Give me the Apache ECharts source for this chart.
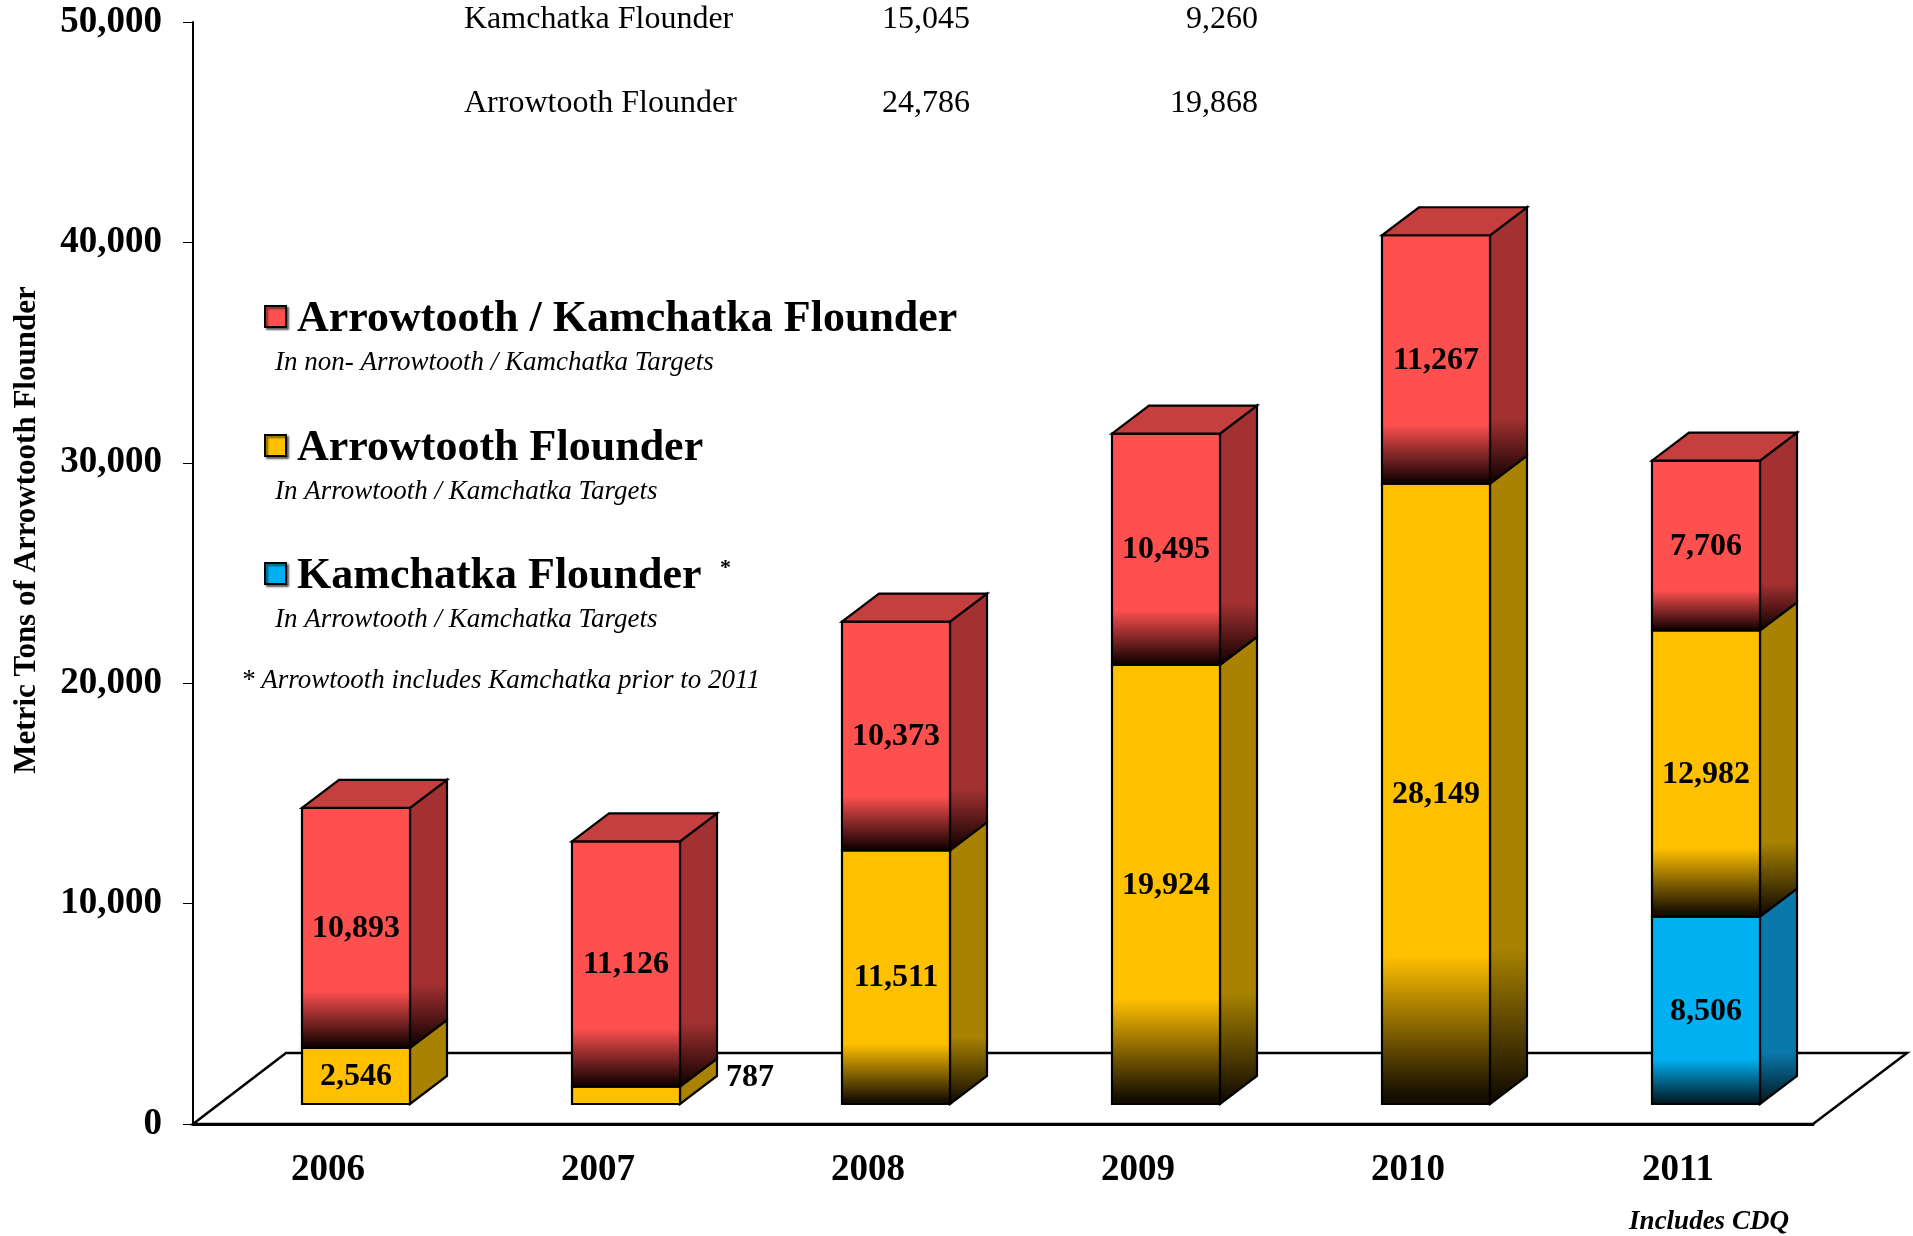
<!DOCTYPE html>
<html>
<head>
<meta charset="utf-8">
<script src="https://cdn.jsdelivr.net/npm/echarts@6/dist/echarts.min.js"></script>
<style>
html,body{margin:0;padding:0;background:#fff;}
#flounderChart{width:1913px;height:1236px;}
</style>
</head>
<body>
<div id="flounderChart"></div>
<script>
// values, bottom segment first
var years = ['2006', '2007', '2008', '2009', '2010', '2011'];
var kamchatkaTarget = [0, 0, 0, 0, 0, 8506];
var arrowtoothTarget = [2546, 787, 11511, 19924, 28149, 12982];
var otherTargets = [10893, 11126, 10373, 10495, 11267, 7706];

var tableNames = ['Kamchatka Flounder', 'Arrowtooth Flounder'];
var tableColA = ['15,045', '24,786'];
var tableColB = ['9,260', '19,868'];

var SERIF = '"Liberation Serif", "Times New Roman", serif';
// 3d box geometry (px)
var FACE_W = 108, DX = 37, DY = -28, SHIFT_X = 28, SHIFT_Y = -20;
var FLOOR_DX = 93, FLOOR_DY = -71;

var stacks = [
    {name: 'Kamchatka Flounder', values: kamchatkaTarget, front: '#00b0f0', side: '#0a78aa', top: '#1a8fc0', dark: '#001a26'},
    {name: 'Arrowtooth Flounder', values: arrowtoothTarget, front: '#ffc000', side: '#a88200', top: '#c89a00', dark: '#140d00'},
    {name: 'Arrowtooth / Kamchatka Flounder', values: otherTargets, front: '#ff5050', side: '#a33131', top: '#c63f3f', dark: '#160202'}
];

function fmt(v) {
    return String(v).replace(/\B(?=(\d{3})+(?!\d))/g, ',');
}

function fade(c, dark, on) {
    if (!on) return c;
    return new echarts.graphic.LinearGradient(0, 0, 0, 1, [
        {offset: 0, color: c},
        {offset: 0.76, color: c},
        {offset: 0.985, color: dark},
        {offset: 1, color: dark}
    ]);
}

function makeSeries(si) {
    var s = stacks[si];
    var data = s.values.map(function (v, i) {
        var base = 0, above = 0;
        for (var k = 0; k < si; k++) base += stacks[k].values[i];
        for (k = si + 1; k < stacks.length; k++) above += stacks[k].values[i];
        return [i, base, v, above > 0 ? 0 : 1];
    });
    return {
        type: 'custom',
        name: s.name,
        z: 3 + si,
        data: data,
        renderItem: function (params, api) {
            var i = api.value(0), base = api.value(1), v = api.value(2), isTop = api.value(3);
            if (!v) return;
            var p0 = api.coord([i, base]);
            var p1 = api.coord([i, base + v]);
            var cx = p0[0] + SHIFT_X;
            var x0 = cx - FACE_W / 2, x1 = cx + FACE_W / 2;
            var yb = p0[1] + SHIFT_Y, yt = p1[1] + SHIFT_Y;
            var h = yb - yt;
            var grad = v > 5000;
            var line = {stroke: '#000', lineWidth: 2.2};
            var kids = [
                {type: 'polygon', shape: {points: [[x1, yb], [x1, yt], [x1 + DX, yt + DY], [x1 + DX, yb + DY]]},
                    style: Object.assign({fill: fade(s.side, s.dark, grad)}, line)},
                {type: 'rect', shape: {x: x0, y: yt, width: FACE_W, height: h},
                    style: Object.assign({fill: fade(s.front, s.dark, grad)}, line)}
            ];
            if (isTop) {
                kids.push({type: 'polygon', shape: {points: [[x0, yt], [x1, yt], [x1 + DX, yt + DY], [x0 + DX, yt + DY]]},
                    style: Object.assign({fill: s.top}, line)});
            }
            var small = h < 30;
            kids.push({
                type: 'text',
                style: {
                    text: fmt(v),
                    x: small ? x1 + DX + 9 : cx,
                    y: small ? yb - h / 2 - 18 : yt + h / 2 + 1,
                    align: small ? 'left' : 'center',
                    verticalAlign: 'middle',
                    font: 'bold 32px ' + SERIF,
                    fill: '#000'
                }
            });
            return {type: 'group', children: kids};
        }
    };
}

var floorSeries = {
    type: 'custom',
    z: 1,
    silent: true,
    data: [[0]],
    renderItem: function (params, api) {
        var cs = params.coordSys;
        var yb = cs.y + cs.height;
        return {
            type: 'polygon',
            shape: {points: [[cs.x, yb], [cs.x + FLOOR_DX, yb + FLOOR_DY],
                [cs.x + cs.width + FLOOR_DX + 1, yb + FLOOR_DY], [cs.x + cs.width, yb]]},
            style: {fill: '#fff', stroke: '#000', lineWidth: 2.5}
        };
    }
};

function legendBlock(color, title, sub, y, star) {
    var items = [
        {type: 'rect', shape: {x: 265, y: y - 10, width: 21, height: 21},
            style: {fill: color, stroke: '#000', lineWidth: 2, shadowColor: 'rgba(0,0,0,0.55)', shadowOffsetX: 2, shadowOffsetY: 2, shadowBlur: 2}},
        {type: 'text', x: 297, y: y + 4, style: {text: title, font: 'bold 44px ' + SERIF, fill: '#000', verticalAlign: 'middle'}},
        {type: 'text', x: 275, y: y + 47, style: {text: sub, font: 'italic 27px ' + SERIF, fill: '#000', verticalAlign: 'middle'}}
    ];
    if (star) {
        items.push({type: 'text', x: 720, y: y - 5, style: {text: '*', font: 'bold 22px ' + SERIF, fill: '#000', verticalAlign: 'middle'}});
    }
    return items;
}

var graphics = [];
tableNames.forEach(function (n, r) {
    var y = 20 + r * 84;
    graphics.push({type: 'text', x: 464, y: y, style: {text: n, font: '32px ' + SERIF, fill: '#000', verticalAlign: 'middle'}});
    graphics.push({type: 'text', x: 970, y: y, style: {text: tableColA[r], font: '32px ' + SERIF, fill: '#000', align: 'right', verticalAlign: 'middle'}});
    graphics.push({type: 'text', x: 1258, y: y, style: {text: tableColB[r], font: '32px ' + SERIF, fill: '#000', align: 'right', verticalAlign: 'middle'}});
});
graphics = graphics.concat(
    legendBlock(stacks[2].front, 'Arrowtooth / Kamchatka Flounder', 'In non- Arrowtooth / Kamchatka Targets', 316),
    legendBlock(stacks[1].front, 'Arrowtooth Flounder', 'In Arrowtooth / Kamchatka Targets', 445),
    legendBlock(stacks[0].front, 'Kamchatka Flounder', 'In Arrowtooth / Kamchatka Targets', 573, true)
);
graphics.push({type: 'text', x: 241, y: 681, style: {text: '* Arrowtooth includes Kamchatka prior to 2011', font: 'italic 27px ' + SERIF, fill: '#000', verticalAlign: 'middle'}});
graphics.push({type: 'text', x: 1709, y: 1222, style: {text: 'Includes CDQ', font: 'italic bold 27px ' + SERIF, fill: '#000', align: 'center', verticalAlign: 'middle'}});
graphics.push({type: 'text', x: 27, y: 530, rotation: Math.PI / 2,
    style: {text: 'Metric Tons of Arrowtooth Flounder', font: 'bold 31px ' + SERIF, fill: '#000', align: 'center', verticalAlign: 'middle'}});

var flounderOption = {
    backgroundColor: '#fff',
    animation: false,
    grid: {left: 193, top: 22, width: 1620, height: 1102},
    xAxis: {
        type: 'category',
        data: years,
        axisLine: {lineStyle: {color: '#000', width: 3}},
        axisTick: {length: 11, lineStyle: {color: '#000', width: 1}},
        axisLabel: {margin: 28, color: '#000', fontFamily: SERIF, fontWeight: 'bold', fontSize: 37},
        z: 10
    },
    yAxis: {
        type: 'value',
        min: 0,
        max: 50000,
        interval: 10000,
        axisLine: {show: true, lineStyle: {color: '#000', width: 2}},
        axisTick: {show: true, length: 10, lineStyle: {color: '#000', width: 1}},
        splitLine: {show: false},
        axisLabel: {margin: 31, color: '#000', fontFamily: SERIF, fontWeight: 'bold', fontSize: 37, formatter: fmt}
    },
    graphic: graphics,
    series: [floorSeries, makeSeries(0), makeSeries(1), makeSeries(2)]
};

var flounderChart = echarts.init(document.getElementById('flounderChart'));
flounderChart.setOption(flounderOption);
</script>
</body>
</html>
